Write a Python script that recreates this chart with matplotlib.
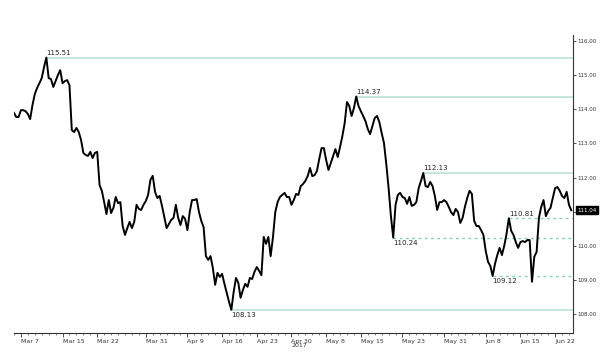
import matplotlib
matplotlib.use("Agg")
import matplotlib.pyplot as plt
import matplotlib.transforms as mtransforms
import numpy as np
import pandas as pd

# USD/JPY, three readings per trading day, 6 Mar - 23 Jun 2017
usdjpy = [
    113.89, 113.77, 113.77, 113.97, 113.97, 113.94, 113.86, 113.71, 114.12, 114.44,
    114.62, 114.76, 114.91, 115.23, 115.51, 114.91, 114.88, 114.65, 114.82, 115.00,
    115.14, 114.76, 114.82, 114.85, 114.70, 113.39, 113.33, 113.45, 113.33, 113.10,
    112.72, 112.66, 112.63, 112.75, 112.57, 112.72, 112.75, 111.78, 111.61, 111.28,
    110.93, 111.34, 110.96, 111.11, 111.43, 111.25, 111.28, 110.58, 110.32, 110.52,
    110.70, 110.52, 110.70, 111.20, 111.08, 111.05, 111.20, 111.31, 111.49, 111.93,
    112.05, 111.58, 111.40, 111.46, 111.17, 110.84, 110.52, 110.64, 110.76, 110.82,
    111.20, 110.82, 110.61, 110.87, 110.79, 110.46, 110.99, 111.34, 111.34, 111.37,
    110.99, 110.73, 110.55, 109.70, 109.59, 109.70, 109.35, 108.86, 109.21, 109.09,
    109.18, 108.89, 108.62, 108.36, 108.13, 108.65, 109.06, 108.92, 108.48, 108.71,
    108.89, 108.80, 109.06, 109.03, 109.24, 109.38, 109.27, 109.14, 110.26, 110.06,
    110.26, 109.70, 110.26, 110.99, 111.28, 111.43, 111.49, 111.55, 111.43, 111.43,
    111.20, 111.34, 111.52, 111.49, 111.75, 111.81, 111.90, 112.04, 112.28, 112.04,
    112.07, 112.19, 112.54, 112.86, 112.86, 112.51, 112.22, 112.42, 112.63, 112.83,
    112.60, 112.89, 113.21, 113.59, 114.21, 114.09, 113.80, 114.03, 114.37, 114.09,
    113.94, 113.80, 113.65, 113.42, 113.27, 113.51, 113.74, 113.80, 113.62, 113.30,
    113.01, 112.39, 111.69, 110.87, 110.24, 111.20, 111.49, 111.55, 111.43, 111.40,
    111.23, 111.43, 111.17, 111.20, 111.28, 111.69, 111.90, 112.13, 111.75, 111.72,
    111.87, 111.75, 111.46, 111.05, 111.28, 111.28, 111.34, 111.28, 111.14, 110.99,
    110.90, 111.08, 110.99, 110.67, 110.82, 111.14, 111.40, 111.61, 111.52, 110.73,
    110.58, 110.58, 110.46, 110.32, 109.85, 109.53, 109.41, 109.12, 109.47, 109.73,
    109.94, 109.73, 110.00, 110.35, 110.81, 110.44, 110.32, 110.11, 109.94, 110.11,
    110.14, 110.11, 110.17, 110.17, 108.95, 109.68, 109.82, 110.82, 111.14, 111.34,
    110.87, 111.02, 111.11, 111.40, 111.69, 111.72, 111.61, 111.46, 111.40, 111.58,
    111.20, 111.04,
]

tick_dates = ["2017-03-07", "2017-03-15", "2017-03-22", "2017-03-31", "2017-04-09",
              "2017-04-16", "2017-04-23", "2017-04-30", "2017-05-08", "2017-05-15",
              "2017-05-23", "2017-05-31", "2017-06-08", "2017-06-15", "2017-06-22"]
tick_labels = ["Mar 7", "Mar 15", "Mar 22", "Mar 31", "Apr 9", "Apr 16", "Apr 23",
               "Apr 30\n2017", "May 8", "May 15", "May 23", "May 31", "Jun 8",
               "Jun 15", "Jun 22"]

peak_levels = [115.51, 114.37, 112.13]
minor_highs = [110.81]
minor_lows = [110.24, 109.12]
trough_levels = [108.13]
last_price = 111.04

days = pd.bdate_range("2017-03-06", "2017-06-23")
t = np.arange(len(usdjpy)) / 3.0
prices = np.array(usdjpy)
tick_pos = np.searchsorted(days, pd.to_datetime(tick_dates))

fig = plt.figure(figsize=(6, 3.55), dpi=100)
ax = fig.add_axes([0.0233, 0.062, 0.9317, 0.8394])
x0, x1 = 0.14, 80.58
ax.set_xlim(x0, x1)
ax.set_ylim(107.45, 116.17)

solid_c = "#bfe3da"
dash_c = "#86d2ae"


def level_line(level, dashed, below):
    i = np.where(np.isclose(prices, level))[0][-1]
    ax.plot([t[i], x1], [level, level], color=dash_c if dashed else solid_c,
            lw=1.0 if dashed else 1.3, ls=(0, (2, 2.5)) if dashed else "-", zorder=1)
    ax.annotate(f"{level:.2f}", (t[i], level), xytext=(0, -1.5 if below else 1.2),
                textcoords="offset points", ha="left",
                va="top" if below else "bottom", fontsize=5, color="#222222")


for lv in peak_levels:
    level_line(lv, False, False)
for lv in minor_highs:
    level_line(lv, True, False)
for lv in minor_lows:
    level_line(lv, True, True)
for lv in trough_levels:
    level_line(lv, False, True)

ax.plot(t, prices, color="black", lw=1.4, zorder=3)

for side in ["left", "top"]:
    ax.spines[side].set_visible(False)
for side in ["right", "bottom"]:
    ax.spines[side].set_linewidth(0.8)
    ax.spines[side].set_color("#333333")

ax.yaxis.tick_right()
yt = np.arange(108, 116.01, 1.0)
ax.set_yticks(yt)
# the last-price tag sits over the tick label nearest to it
hidden = np.argmin(np.abs(yt - last_price))
ax.set_yticklabels(["" if j == hidden else f"{v:.2f}" for j, v in enumerate(yt)],
                   fontsize=4)
ax.tick_params(axis="y", length=2, width=0.6, pad=1, colors="#333333")

ax.set_xticks(tick_pos)
ax.set_xticklabels(tick_labels, fontsize=4.5, ha="left", linespacing=0.9)
ax.set_xticks(np.arange(0, 81), minor=True)
ax.tick_params(axis="x", which="major", length=3, width=0.6, pad=1, colors="#333333")
ax.tick_params(axis="x", which="minor", length=1.5, width=0.5, colors="#555555")

trans = mtransforms.blended_transform_factory(ax.transAxes, ax.transData)
ax.annotate(f"{last_price:.2f}", (1, last_price), xycoords=trans,
            xytext=(3, 0), textcoords="offset points", ha="left", va="center",
            fontsize=4, color="white",
            bbox=dict(boxstyle="square,pad=0.25", fc="black", ec="black"))

fig.savefig("out.png", dpi=100)
